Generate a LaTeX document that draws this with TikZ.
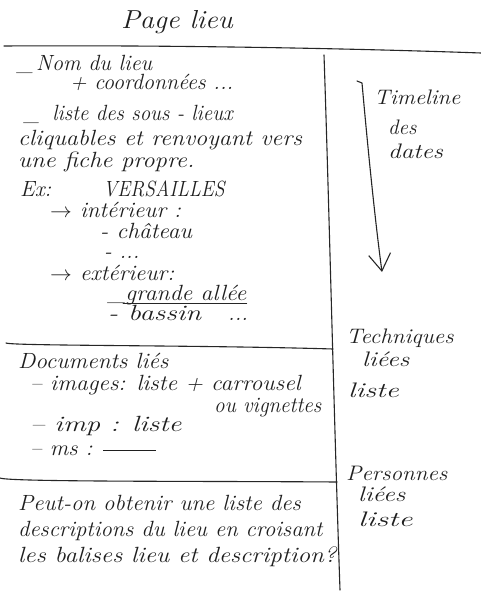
\documentclass[tikz,border=0pt]{standalone}
\usepackage{fontspec}
\usepackage{graphicx}
\usetikzlibrary{arrows.meta,calc}
% horizontal stretch of a handwritten line
\newcommand\hw[2]{\scalebox{#1}[1]{#2}}
\begin{document}
\begin{tikzpicture}[x=1pt,y=-1pt,
  ink/.style={draw=black!85, line width=1.1pt, line cap=round, line join=round},
  hand/.style={anchor=base west, inner sep=0pt, text=black!88,
    font=\fontsize{22}{24}\selectfont\itshape},
  side/.style={hand, font=\fontsize{21}{24}\selectfont\itshape}]
\useasboundingbox[fill=white] (0,0) rectangle (481,599);

% title
\node[hand, anchor=base, font=\fontsize{26}{28}\selectfont\itshape] (title) at (177,29) {\hw{1.09}{Page lieu}};

% frame lines
\draw[ink] (4,46) .. controls (160,45) and (340,48) .. (481,53);
\draw[ink] (324,55) .. controls (329,200) and (334,420) .. (340,590);
\draw[ink] (6,343) .. controls (12,346) and (200,345) .. (333,349);
\draw[ink] (0,478) .. controls (8,482) and (200,481) .. (337,482);

% first block: the place itself
\node[hand] (nom)   at (17,71)  {\hw{1.0}{\_\hspace{3pt}Nom du lieu}};
\node[hand] (coord) at (70,90)  {\hw{1.0}{+ coordonnées ...}};
\node[hand] (liste) at (24,121) {\hw{0.95}{\_\; liste des sous - lieux}};
\node[hand] (cliq)  at (18,146) {\hw{1.1}{cliquables et renvoyant vers}};
\node[hand] (fiche) at (18,167) {\hw{1.12}{une fiche propre.}};
\node[hand] (ex)    at (20,196) {Ex:};
\node[hand] (vers)  at (103,196) {\hw{0.89}{VERSAILLES}};
\node[hand] (int)   at (50,217) {\hw{1.05}{$\rightarrow$ intérieur :}};
\node[hand] (chat)  at (100,238) {\hw{1.07}{- château}};
\node[hand] (dots1) at (104,258) {- ...};
\node[hand] (ext)   at (50,280) {\hw{1.05}{$\rightarrow$ extérieur:}};
\node[hand] (allee) at (108,300) {\hw{1.08}{\_grande allée}};
\draw[ink, line width=0.9pt] ($(allee.base west)+(15,3)$) -- ($(allee.base east)+(0,3)$);
\node[hand] (bass)  at (108,320) {\hw{1.3}{- bassin}};
\node[hand] (dots2) at (228,320) {...};

% second block: linked documents
\node[hand] (docs)  at (18,368) {\hw{1.06}{Documents liés}};
\node[hand] (img)   at (30,390) {\hw{1.07}{– images: liste + carrousel}};
\node[hand] (vign)  at (214,412) {\hw{0.96}{ou vignettes}};
\node[hand] (imp)   at (30,431) {\hw{1.3}{– imp : liste}};
\node[hand] (ms)    at (30,455) {\hw{1.05}{– ms : \rule[4pt]{50pt}{0.9pt}}};

% third block: open question
\node[hand] (q1) at (18,510) {\hw{1.04}{Peut-on obtenir une liste des}};
\node[hand] (q2) at (18,536) {\hw{1.03}{descriptions du lieu en croisant}};
\node[hand] (q3) at (18,562) {\hw{1.14}{les balises lieu et description?}};

% side column
\draw[ink, -{Straight Barb[length=17pt,width=22pt]}]
  (357,81) -- (362,83) .. controls (368,150) and (375,220) .. (382,272);
\node[side] (tl)   at (374,105) {\hw{1.08}{Timeline}};
\node[side] (des)  at (388,134) {des};
\node[side] (dat)  at (388,158) {\hw{1.2}{dates}};
\node[side] (tech) at (346,343) {\hw{1.1}{Techniques}};
\node[side] (tli)  at (362,366) {\hw{1.25}{liées}};
\node[side] (tls)  at (348,397) {\hw{1.4}{liste}};
\node[side] (pers) at (346,480) {\hw{1.1}{Personnes}};
\node[side] (pli)  at (358,501) {\hw{1.25}{liées}};
\node[side] (pls)  at (358,526) {\hw{1.5}{liste}};
\end{tikzpicture}
\end{document}
